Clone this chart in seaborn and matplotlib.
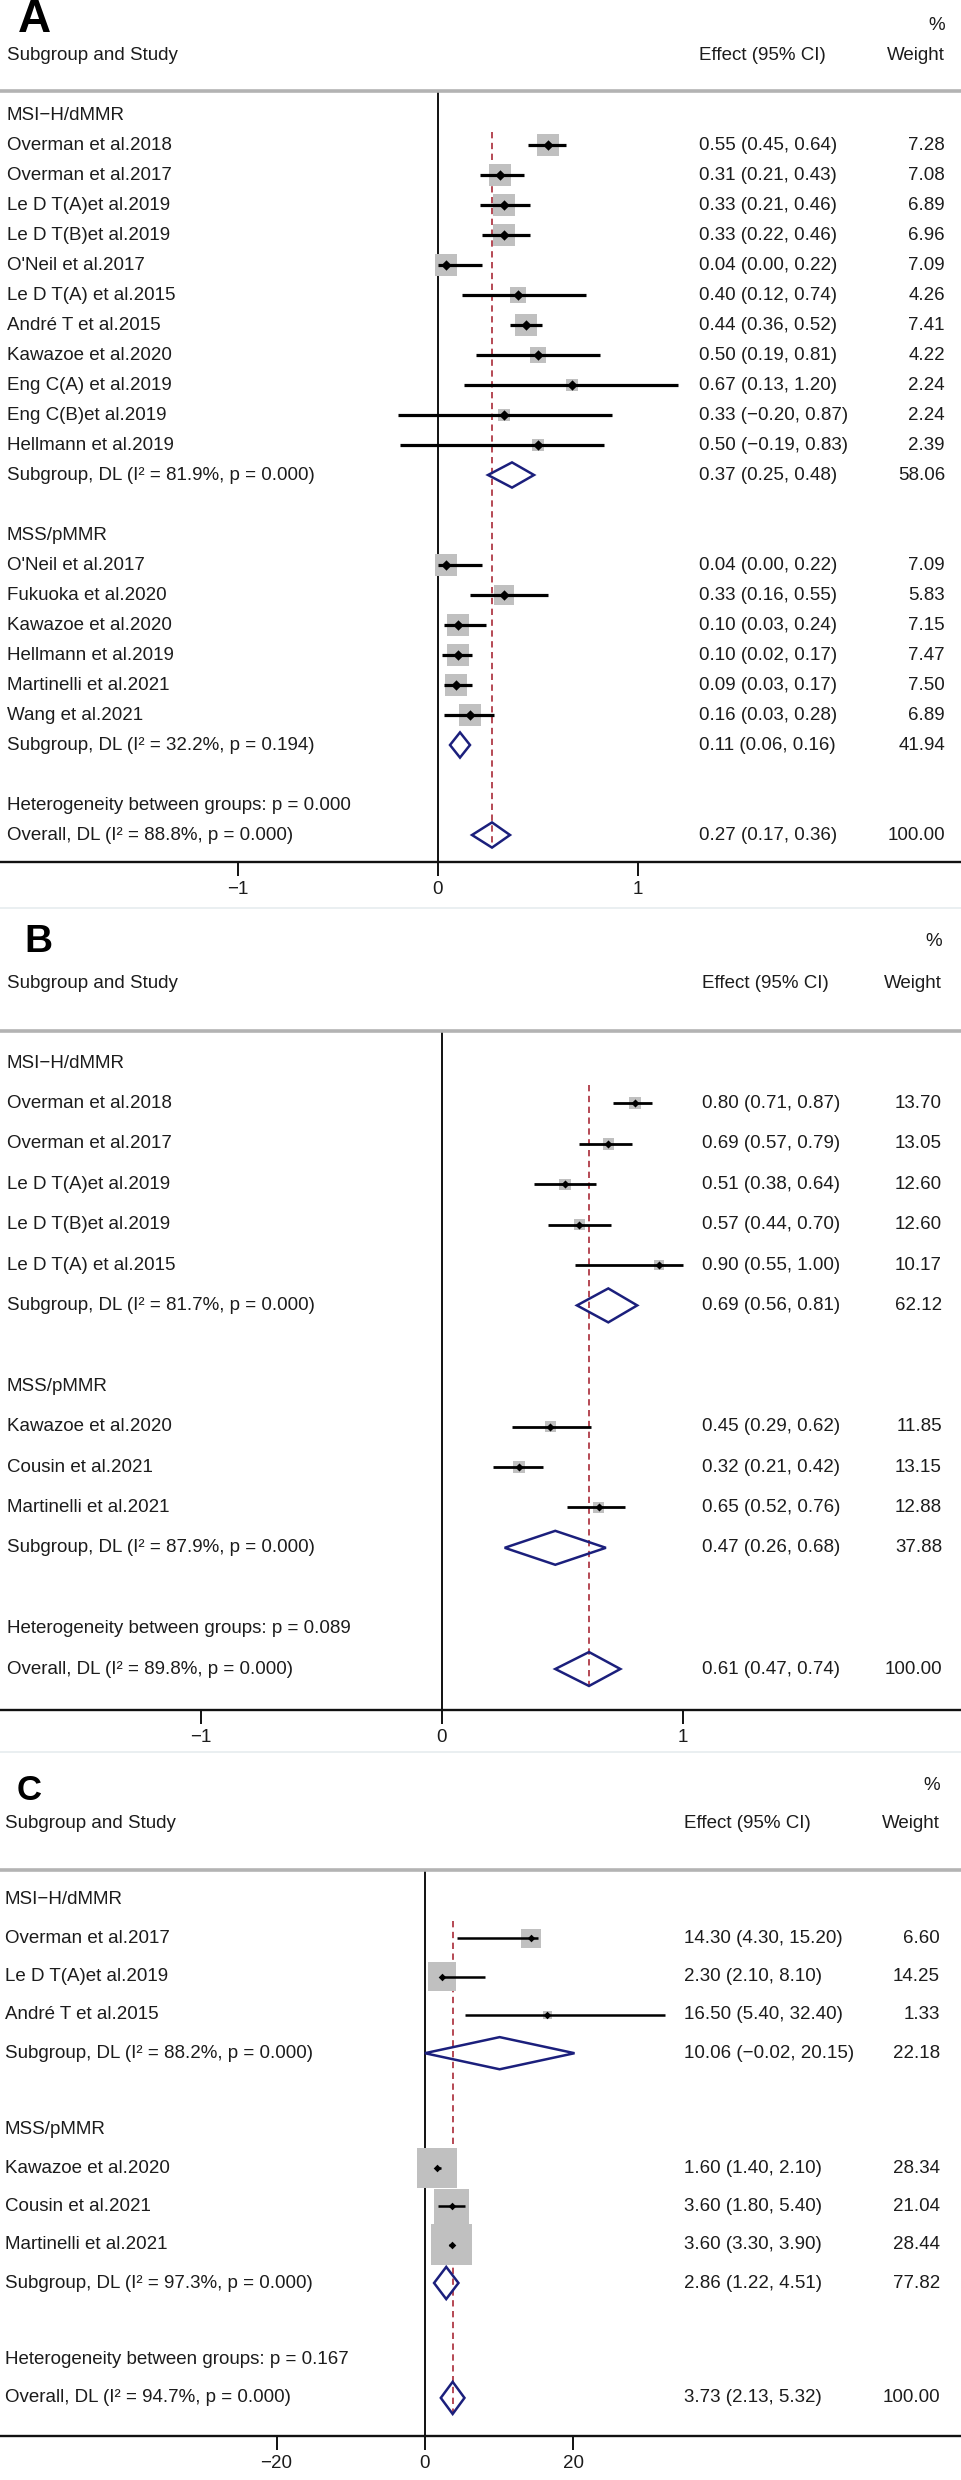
import numpy as np
import pandas as pd
import seaborn as sns
import matplotlib.pyplot as plt
from matplotlib.patches import Polygon
from matplotlib.lines import Line2D
from matplotlib.transforms import blended_transform_factory

# ---------------- panel A data ----------------
A_msi_study = ["Overman et al.2018", "Overman et al.2017", "Le D T(A)et al.2019", "Le D T(B)et al.2019",
               "O'Neil et al.2017", "Le D T(A) et al.2015", "André T et al.2015", "Kawazoe et al.2020",
               "Eng C(A) et al.2019", "Eng C(B)et al.2019", "Hellmann et al.2019"]
A_msi_es = [0.55, 0.31, 0.33, 0.33, 0.04, 0.40, 0.44, 0.50, 0.67, 0.33, 0.50]
A_msi_lo = [0.45, 0.21, 0.21, 0.22, 0.00, 0.12, 0.36, 0.19, 0.13, -0.20, -0.19]
A_msi_hi = [0.64, 0.43, 0.46, 0.46, 0.22, 0.74, 0.52, 0.81, 1.20, 0.87, 0.83]
A_msi_w = [7.28, 7.08, 6.89, 6.96, 7.09, 4.26, 7.41, 4.22, 2.24, 2.24, 2.39]
A_mss_study = ["O'Neil et al.2017", "Fukuoka et al.2020", "Kawazoe et al.2020", "Hellmann et al.2019",
               "Martinelli et al.2021", "Wang et al.2021"]
A_mss_es = [0.04, 0.33, 0.10, 0.10, 0.09, 0.16]
A_mss_lo = [0.00, 0.16, 0.03, 0.02, 0.03, 0.03]
A_mss_hi = [0.22, 0.55, 0.24, 0.17, 0.17, 0.28]
A_mss_w = [7.09, 5.83, 7.15, 7.47, 7.50, 6.89]
A_sub_es = [0.37, 0.11]
A_sub_lo = [0.25, 0.06]
A_sub_hi = [0.48, 0.16]
A_sub_w = [58.06, 41.94]
A_sub_i2 = ["81.9", "32.2"]
A_sub_p = ["0.000", "0.194"]
A_overall = [0.27, 0.17, 0.36]
A_overall_i2, A_overall_p, A_het_p = "88.8", "0.000", "0.000"
A_ticks = [-1, 0, 1]

# ---------------- panel B data ----------------
B_msi_study = ["Overman et al.2018", "Overman et al.2017", "Le D T(A)et al.2019", "Le D T(B)et al.2019",
               "Le D T(A) et al.2015"]
B_msi_es = [0.80, 0.69, 0.51, 0.57, 0.90]
B_msi_lo = [0.71, 0.57, 0.38, 0.44, 0.55]
B_msi_hi = [0.87, 0.79, 0.64, 0.70, 1.00]
B_msi_w = [13.70, 13.05, 12.60, 12.60, 10.17]
B_mss_study = ["Kawazoe et al.2020", "Cousin et al.2021", "Martinelli et al.2021"]
B_mss_es = [0.45, 0.32, 0.65]
B_mss_lo = [0.29, 0.21, 0.52]
B_mss_hi = [0.62, 0.42, 0.76]
B_mss_w = [11.85, 13.15, 12.88]
B_sub_es = [0.69, 0.47]
B_sub_lo = [0.56, 0.26]
B_sub_hi = [0.81, 0.68]
B_sub_w = [62.12, 37.88]
B_sub_i2 = ["81.7", "87.9"]
B_sub_p = ["0.000", "0.000"]
B_overall = [0.61, 0.47, 0.74]
B_overall_i2, B_overall_p, B_het_p = "89.8", "0.000", "0.089"
B_ticks = [-1, 0, 1]

# ---------------- panel C data ----------------
C_msi_study = ["Overman et al.2017", "Le D T(A)et al.2019", "André T et al.2015"]
C_msi_es = [14.30, 2.30, 16.50]
C_msi_lo = [4.30, 2.10, 5.40]
C_msi_hi = [15.20, 8.10, 32.40]
C_msi_w = [6.60, 14.25, 1.33]
C_mss_study = ["Kawazoe et al.2020", "Cousin et al.2021", "Martinelli et al.2021"]
C_mss_es = [1.60, 3.60, 3.60]
C_mss_lo = [1.40, 1.80, 3.30]
C_mss_hi = [2.10, 5.40, 3.90]
C_mss_w = [28.34, 21.04, 28.44]
C_sub_es = [10.06, 2.86]
C_sub_lo = [-0.02, 1.22]
C_sub_hi = [20.15, 4.51]
C_sub_w = [22.18, 77.82]
C_sub_i2 = ["88.2", "97.3"]
C_sub_p = ["0.000", "0.000"]
C_overall = [3.73, 2.13, 5.32]
C_overall_i2, C_overall_p, C_het_p = "94.7", "0.000", "0.167"
C_ticks = [-20, 0, 20]

group_names = ["MSI\u2212H/dMMR", "MSS/pMMR"]

sns.set_theme(style="white")
plt.rcParams['font.family'] = ['Liberation Sans', 'DejaVu Sans']

W, H = 962, 2480
FS = 13.5
TXT = "#1c1c1c"
NAVY = "#1b1f7c"
RED = "#b03a46"

layouts = {
    "A": dict(letter=(18, 20, 33), pct_y=25, head_y=55, line_y=91, row0=115, step=30.0, axis_y=862,
              zero=438, ppu=200.0, eff_x=699, wt_x=945, lab_x=7, box_c=8.1, pt_s=28, ci_lw=2.3),
    "B": dict(letter=(24, 942, 28), pct_y=942, head_y=983, line_y=1031, row0=1063, step=40.4, axis_y=1710,
              zero=442, ppu=241.0, eff_x=702, wt_x=942, lab_x=7, box_c=3.2, pt_s=17, ci_lw=2.0),
    "C": dict(letter=(17, 1791, 25), pct_y=1785, head_y=1823, line_y=1870, row0=1900, step=38.3, axis_y=2436,
              zero=425, ppu=7.42, eff_x=684, wt_x=940, lab_x=5, box_c=7.6, pt_s=15, ci_lw=1.8),
}


def fmt(v):
    return f"{v:.2f}".replace("-", "\u2212")


def fy(px):
    return 1 - px / H


fig = plt.figure(figsize=(W / 100, H / 100), dpi=100)


def draw_panel(name, lay, msi, mss, sub, tot, ticks):
    m_study, m_es, m_lo, m_hi, m_w = msi
    s_study, s_es, s_lo, s_hi, s_w = mss
    sub_es, sub_lo, sub_hi, sub_w, sub_i2, sub_p = sub
    (o_es, o_lo, o_hi), o_i2, o_p, het_p = tot

    n1, n2 = len(m_study), len(s_study)
    rows_m = list(range(1, n1 + 1))
    mss_head = n1 + 3
    rows_s = list(range(mss_head + 1, mss_head + 1 + n2))
    sub_rows = [n1 + 1, mss_head + n2 + 1]
    het_row = sub_rows[1] + 2
    all_row = het_row + 1

    ax = fig.add_axes([0, fy(lay["axis_y"]), 1, (lay["axis_y"] - lay["line_y"]) / H])

    df = pd.DataFrame({"study": m_study + s_study, "es": m_es + s_es, "lo": m_lo + s_lo,
                       "hi": m_hi + s_hi, "w": m_w + s_w, "row": rows_m + rows_s})

    # weight boxes
    side_pt = lay["box_c"] * np.sqrt(df["w"]) * 0.72
    ax.scatter(df["es"], df["row"], s=side_pt ** 2, marker="s", color="#c0c0c0", linewidths=0, zorder=2)
    # confidence intervals
    ax.hlines(df["row"], df["lo"], df["hi"], color="black", lw=lay["ci_lw"], zorder=3)
    # point estimates
    sns.scatterplot(data=df, x="es", y="row", marker="D", s=lay["pt_s"], color="black",
                    linewidth=0, ax=ax, zorder=4, legend=False)

    # pooled diamonds
    h = 0.42
    for es, lo, hi, r in zip(sub_es + [o_es], sub_lo + [o_lo], sub_hi + [o_hi], sub_rows + [all_row]):
        ax.add_patch(Polygon([(lo, r), (es, r - h), (hi, r), (es, r + h)], closed=True,
                             fill=False, edgecolor=NAVY, lw=1.8, zorder=5))

    ax.plot([o_es, o_es], [0.55, all_row + h], color=RED, lw=1.3, ls=(0, (3.5, 2.5)), zorder=1)
    ax.axvline(0, color="#111111", lw=1.4, zorder=1)

    # text columns
    tr = blended_transform_factory(ax.transAxes, ax.transData)
    kw = dict(transform=tr, va="center", fontsize=FS, color=TXT)
    lx, ex, wx = lay["lab_x"] / W, lay["eff_x"] / W, lay["wt_x"] / W
    ax.text(lx, 0, group_names[0], ha="left", **kw)
    ax.text(lx, mss_head, group_names[1], ha="left", **kw)
    for _, d in df.iterrows():
        ax.text(lx, d["row"], d["study"], ha="left", **kw)
        ax.text(ex, d["row"], f"{fmt(d['es'])} ({fmt(d['lo'])}, {fmt(d['hi'])})", ha="left", **kw)
        ax.text(wx, d["row"], f"{d['w']:.2f}", ha="right", **kw)
    for k in range(2):
        ax.text(lx, sub_rows[k], f"Subgroup, DL (I\u00b2 = {sub_i2[k]}%, p = {sub_p[k]})", ha="left", **kw)
        ax.text(ex, sub_rows[k], f"{fmt(sub_es[k])} ({fmt(sub_lo[k])}, {fmt(sub_hi[k])})", ha="left", **kw)
        ax.text(wx, sub_rows[k], f"{sub_w[k]:.2f}", ha="right", **kw)
    ax.text(lx, het_row, f"Heterogeneity between groups: p = {het_p}", ha="left", **kw)
    ax.text(lx, all_row, f"Overall, DL (I\u00b2 = {o_i2}%, p = {o_p})", ha="left", **kw)
    ax.text(ex, all_row, f"{fmt(o_es)} ({fmt(o_lo)}, {fmt(o_hi)})", ha="left", **kw)
    ax.text(wx, all_row, "100.00", ha="right", **kw)

    # headers
    lxp, lyp, lsz = lay["letter"]
    fig.text(lxp / W, fy(lyp), name, ha="left", va="center", fontsize=lsz, fontweight="bold", color="black")
    fig.text(wx, fy(lay["pct_y"]), "%", ha="right", va="center", fontsize=FS, color=TXT)
    fig.text(lx, fy(lay["head_y"]), "Subgroup and Study", ha="left", va="center", fontsize=FS, color=TXT)
    fig.text(ex, fy(lay["head_y"]), "Effect (95% CI)", ha="left", va="center", fontsize=FS, color=TXT)
    fig.text(wx, fy(lay["head_y"]), "Weight", ha="right", va="center", fontsize=FS, color=TXT)

    ax.set_xlim(-lay["zero"] / lay["ppu"], (W - lay["zero"]) / lay["ppu"])
    ax.set_ylim((lay["axis_y"] - lay["row0"]) / lay["step"], (lay["line_y"] - lay["row0"]) / lay["step"])
    ax.set_xticks(ticks)
    ax.set_yticks([])
    ax.set_xlabel("")
    ax.set_ylabel("")
    ax.tick_params(axis="x", bottom=True, length=10, width=1.4, color="#111111",
                   labelsize=FS, labelcolor=TXT, pad=4)
    for s in ["left", "right"]:
        ax.spines[s].set_visible(False)
    ax.spines["top"].set_color("#b3b3b3")
    ax.spines["top"].set_linewidth(2.6)
    ax.spines["bottom"].set_color("#111111")
    ax.spines["bottom"].set_linewidth(1.7)
    ax.set_facecolor("none")


draw_panel("A", layouts["A"],
           (A_msi_study, A_msi_es, A_msi_lo, A_msi_hi, A_msi_w),
           (A_mss_study, A_mss_es, A_mss_lo, A_mss_hi, A_mss_w),
           (A_sub_es, A_sub_lo, A_sub_hi, A_sub_w, A_sub_i2, A_sub_p),
           (A_overall, A_overall_i2, A_overall_p, A_het_p), A_ticks)
draw_panel("B", layouts["B"],
           (B_msi_study, B_msi_es, B_msi_lo, B_msi_hi, B_msi_w),
           (B_mss_study, B_mss_es, B_mss_lo, B_mss_hi, B_mss_w),
           (B_sub_es, B_sub_lo, B_sub_hi, B_sub_w, B_sub_i2, B_sub_p),
           (B_overall, B_overall_i2, B_overall_p, B_het_p), B_ticks)
draw_panel("C", layouts["C"],
           (C_msi_study, C_msi_es, C_msi_lo, C_msi_hi, C_msi_w),
           (C_mss_study, C_mss_es, C_mss_lo, C_mss_hi, C_mss_w),
           (C_sub_es, C_sub_lo, C_sub_hi, C_sub_w, C_sub_i2, C_sub_p),
           (C_overall, C_overall_i2, C_overall_p, C_het_p), C_ticks)

# faint borders between the stacked panels
for yp in [908, 1752]:
    fig.add_artist(Line2D([0, 1], [fy(yp), fy(yp)], color="#e6ecef", lw=1.2))

fig.savefig("out.png", dpi=100)
